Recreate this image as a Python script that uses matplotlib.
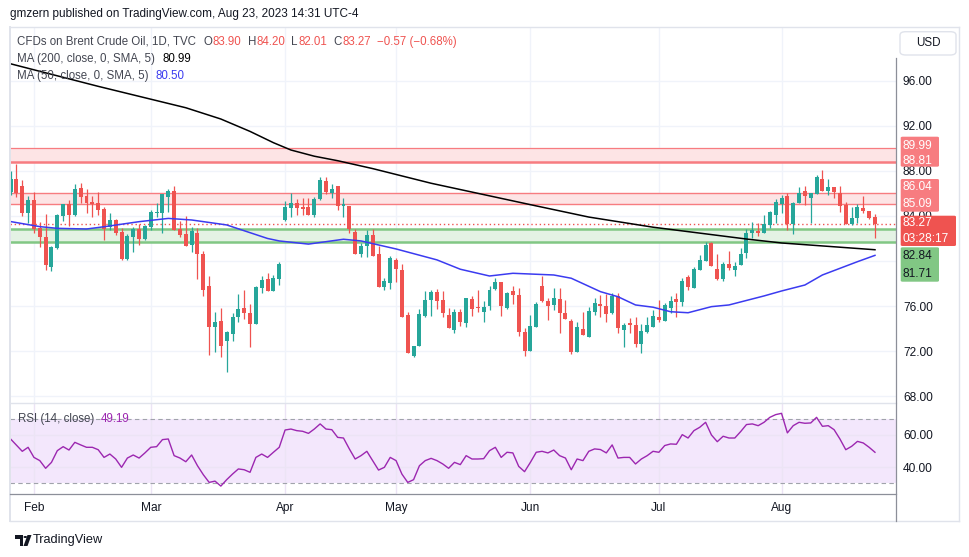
import matplotlib
matplotlib.use('Agg')
import matplotlib.pyplot as plt
from matplotlib.patches import FancyBboxPatch, Polygon, Circle
from matplotlib.lines import Line2D

plt.rcParams['font.family'] = ['Liberation Sans', 'DejaVu Sans']

W, H = 970, 557

# ---------------- data ----------------
opens = [86.15, 87.27, 86.65, 84.29, 85.41, 82.90, 82.13, 79.49, 81.18, 84.02,
         85.06, 84.08, 86.45, 85.76, 85.23, 85.14, 84.61, 83.04, 83.64, 82.60,
         80.17, 82.16, 82.84, 81.95, 83.05, 84.29, 84.29, 85.71, 86.21, 82.81,
         82.40, 81.42, 82.45, 80.62, 77.78, 74.17, 74.67, 72.90, 73.52, 75.05,
         75.80, 75.35, 74.43, 77.63, 78.40, 77.36, 78.37, 83.63, 84.73, 85.17,
         84.76, 84.76, 84.08, 85.47, 87.10, 86.06, 86.68, 84.91, 84.91, 82.60,
         80.62, 81.33, 82.31, 80.62, 77.72, 78.07, 80.09, 79.20, 75.20, 71.59,
         72.48, 75.14, 76.53, 77.25, 76.53, 75.20, 73.87, 75.44, 74.52, 76.62,
         75.94, 75.50, 76.00, 77.51, 78.13, 75.86, 77.33, 76.98, 73.67, 72.04,
         74.17, 77.78, 76.45, 76.09, 76.62, 75.41, 74.70, 71.95, 73.96, 73.28,
         75.50, 76.15, 76.03, 75.35, 76.92, 73.87, 74.46, 74.32, 72.60, 73.72,
         74.17, 75.00, 74.67, 75.85, 76.60, 76.39, 78.55, 77.63, 79.20, 80.00,
         81.57, 79.29, 78.40, 79.73, 79.20, 79.64, 80.74, 82.51, 82.66, 82.51,
         83.19, 84.08, 85.06, 85.76, 83.28, 85.17, 86.21, 85.62, 85.91, 87.27,
         86.21, 86.53, 86.00, 84.97, 83.25, 83.78, 84.67, 84.44, 83.90]
highs = [88.00, 88.60, 87.19, 85.77, 86.09, 83.49, 84.17, 81.36, 84.15, 85.10,
         85.41, 86.83, 86.95, 86.39, 85.76, 86.09, 84.76, 84.23, 83.70, 82.90,
         82.40, 83.05, 83.25, 83.20, 84.52, 85.11, 85.94, 86.36, 86.68, 83.55,
         83.99, 83.05, 82.90, 80.92, 78.67, 75.47, 75.86, 73.78, 75.35, 77.04,
         77.42, 76.18, 77.78, 78.67, 78.90, 78.75, 79.91, 85.32, 86.00, 85.50,
         85.56, 85.56, 85.65, 87.48, 87.48, 86.83, 86.68, 85.62, 84.91, 82.81,
         81.57, 82.75, 82.84, 81.33, 78.52, 80.44, 80.23, 79.73, 75.50, 72.45,
         75.74, 77.36, 77.42, 77.51, 77.33, 75.80, 75.71, 75.71, 76.74, 76.89,
         77.42, 76.45, 77.78, 78.49, 78.13, 77.28, 77.78, 77.57, 74.02, 75.20,
         76.39, 78.67, 76.74, 77.63, 77.57, 76.53, 74.82, 74.61, 75.50, 75.94,
         76.68, 76.98, 77.04, 77.13, 77.19, 74.46, 74.91, 75.06, 74.38, 75.06,
         75.65, 76.53, 76.30, 76.89, 77.13, 78.46, 78.75, 79.44, 80.53, 81.71,
         81.71, 80.59, 79.94, 80.92, 79.94, 81.12, 82.81, 83.43, 83.34, 84.08,
         84.46, 85.47, 85.86, 86.00, 85.26, 86.54, 86.65, 86.06, 87.63, 88.07,
         87.27, 86.53, 86.65, 85.26, 84.76, 85.06, 85.77, 84.44, 84.20]
lows = [85.85, 85.65, 83.99, 83.34, 82.45, 81.27, 79.20, 79.11, 81.10, 83.58,
        83.13, 84.02, 85.18, 84.23, 83.93, 84.08, 81.86, 82.75, 82.30, 80.10,
        80.10, 80.83, 81.42, 81.86, 82.75, 83.87, 82.45, 84.38, 82.75, 82.16,
        81.36, 80.83, 78.40, 76.90, 71.65, 71.95, 71.45, 70.17, 72.93, 74.61,
        74.85, 72.39, 74.43, 77.18, 77.36, 77.33, 77.87, 83.55, 83.93, 84.08,
        84.08, 84.08, 83.87, 85.41, 85.91, 85.62, 84.52, 83.87, 82.45, 80.62,
        80.32, 80.38, 80.44, 77.72, 77.42, 77.48, 78.16, 75.06, 71.80, 71.45,
        72.48, 75.06, 75.14, 75.74, 75.06, 74.08, 73.58, 74.26, 74.17, 75.14,
        75.44, 74.61, 75.65, 77.42, 75.14, 75.74, 76.18, 73.37, 71.60, 72.04,
        74.17, 76.39, 74.76, 75.65, 73.63, 74.85, 71.71, 71.95, 73.43, 73.22,
        75.20, 75.06, 74.55, 75.29, 73.63, 72.39, 73.58, 72.33, 71.86, 73.63,
        74.17, 74.61, 74.67, 75.35, 75.05, 76.03, 77.42, 77.63, 79.20, 80.00,
        79.55, 78.31, 78.25, 79.20, 78.67, 79.64, 80.29, 82.00, 82.22, 82.51,
        82.90, 83.34, 84.29, 82.75, 82.39, 85.17, 84.97, 83.40, 85.91, 86.24,
        85.86, 85.56, 84.38, 83.25, 83.19, 83.40, 84.29, 83.72, 82.01]
closes = [87.27, 86.00, 84.29, 85.41, 82.84, 82.16, 79.64, 81.21, 84.08, 85.06,
          84.08, 86.39, 85.71, 85.18, 85.06, 84.52, 82.84, 83.64, 82.51, 80.17,
          82.22, 82.84, 81.95, 83.10, 84.38, 84.38, 85.94, 86.21, 82.75, 82.31,
          81.36, 82.66, 80.62, 77.43, 74.17, 74.58, 72.48, 73.72, 75.00, 75.74,
          75.41, 74.43, 77.72, 78.31, 77.36, 78.46, 79.73, 84.76, 85.17, 84.73,
          84.64, 84.08, 85.50, 87.18, 86.15, 86.39, 84.91, 85.03, 82.81, 80.62,
          81.33, 82.31, 80.44, 77.72, 78.22, 80.23, 79.26, 75.06, 71.80, 72.45,
          75.29, 76.53, 77.25, 76.47, 75.35, 74.08, 75.44, 74.55, 76.74, 75.74,
          75.80, 75.94, 77.42, 78.13, 76.00, 77.19, 76.98, 73.72, 72.04, 74.23,
          76.18, 76.47, 76.03, 76.74, 75.41, 74.85, 71.95, 74.17, 73.43, 75.56,
          76.24, 76.03, 75.29, 76.92, 74.02, 74.32, 74.32, 72.63, 73.78, 74.32,
          75.11, 74.76, 76.09, 76.45, 76.39, 78.22, 77.66, 79.29, 80.09, 81.42,
          79.55, 78.40, 79.73, 79.35, 79.55, 80.62, 82.51, 82.75, 82.45, 83.25,
          84.32, 85.20, 85.56, 83.28, 85.17, 86.00, 85.77, 86.06, 87.42, 86.24,
          86.53, 86.15, 84.91, 83.25, 83.78, 84.76, 84.47, 83.78, 83.27]

rsi_vals = [57.5, 53.6, 49.8, 52.3, 46.0, 44.0, 39.2, 42.9, 50.2, 52.7,
            50.6, 55.4, 53.8, 52.3, 52.3, 50.8, 46.0, 48.1, 45.0, 39.8,
            45.6, 47.5, 45.6, 48.8, 52.3, 52.7, 57.1, 57.5, 47.1, 45.6,
            43.3, 47.5, 40.8, 35.2, 30.4, 31.2, 28.1, 32.1, 35.6, 38.8,
            38.3, 36.7, 46.0, 48.1, 46.0, 49.2, 52.3, 63.1, 63.7, 62.7,
            62.3, 61.0, 63.7, 66.9, 63.7, 63.3, 58.5, 58.1, 51.3, 45.0,
            47.1, 49.8, 44.0, 38.1, 39.8, 46.0, 44.0, 35.6, 30.4, 32.1,
            40.8, 44.0, 45.4, 44.0, 41.9, 39.2, 42.9, 41.5, 47.1, 45.0,
            45.0, 45.2, 50.2, 52.3, 46.0, 49.2, 48.8, 40.4, 37.1, 42.9,
            49.2, 49.8, 48.8, 50.6, 47.1, 45.6, 38.3, 45.0, 44.0, 49.8,
            51.3, 50.9, 48.8, 53.8, 45.6, 46.0, 46.0, 41.9, 45.0, 47.1,
            49.8, 49.2, 53.4, 54.4, 54.2, 60.2, 58.1, 62.7, 64.8, 67.9,
            60.0, 55.8, 59.2, 58.1, 58.1, 62.1, 66.5, 66.9, 65.8, 67.9,
            71.0, 72.7, 73.5, 61.3, 65.8, 67.9, 67.3, 67.5, 71.0, 65.4,
            65.8, 63.3, 57.5, 50.8, 52.9, 56.0, 55.0, 52.3, 49.19]

ma200_bars = [0, 15, 30, 36, 41, 45, 48, 52, 56, 62, 72, 89, 99, 110, 126, 132, 148]
ma200_vals = [97.5, 95.5, 93.6, 92.6, 91.5, 90.5, 89.85, 89.3, 88.9, 88.2, 86.9,
              85.0, 83.9, 83.0, 81.95, 81.6, 81.0]

ma50_bars = [0, 5, 8, 13, 16, 22, 27, 31, 37, 44, 46, 51, 57, 60, 66, 73, 77, 82,
             86, 93, 96, 101, 104, 107, 110, 113, 116, 120, 123, 129, 132, 136,
             139, 142, 145, 148]
ma50_vals = [83.5, 83.05, 82.9, 82.84, 83.04, 83.49, 83.78, 83.64, 83.2, 82.0, 81.78,
             81.5, 81.93, 81.78, 81.07, 80.1, 79.27, 78.67, 78.91, 78.76, 78.47,
             77.28, 76.83, 76.1, 75.9, 75.5, 75.41, 75.95, 76.1, 76.9, 77.34,
             77.87, 78.76, 79.35, 79.94, 80.5]

month_labels = ['Feb', 'Mar', 'Apr', 'May', 'Jun', 'Jul', 'Aug']
month_bars = [4, 24, 47, 66, 89, 111, 132]

zone_top = (88.81, 89.99)
zone_mid = (85.09, 86.04)
zone_green = (81.71, 82.84)
last_price = 83.27
price_ticks = [68, 72, 76, 80, 84, 88, 92, 96]
hidden_price_ticks = [80]          # fully covered by the level labels in the original
rsi_ticks = [40, 60]

# ---------------- styles ----------------
UP = '#26a69a'
DOWN = '#ef5350'
TXT = '#131722'
GRAYTXT = '#434651'
GRID = '#f0f3fa'
ZRED_LINE = '#f77c80'
ZRED_FILL = '#fde4e5'
ZGRN_LINE = '#81c784'
ZGRN_FILL = '#e4f2e4'
MA50_C = '#3b3bf0'
RSI_C = '#9c27b0'

fig = plt.figure(figsize=(W / 100, H / 100), dpi=100)
fig.patch.set_facecolor('white')


def fx(x):
    return x / W


def fy(y):
    return 1 - y / H


def frect(x0, y0, x1, y1):
    return [x0 / W, 1 - y1 / H, (x1 - x0) / W, (y1 - y0) / H]


ax = fig.add_axes(frect(10, 27, 896, 403))
axr = fig.add_axes(frect(10, 403, 896, 494), sharex=ax)
for a in (ax, axr):
    a.set_facecolor('none')
    for s in a.spines.values():
        s.set_visible(False)

n = len(closes)
xs = list(range(n))
cols = [UP if c >= o else DOWN for o, c in zip(opens, closes)]
bottoms = [min(o, c) for o, c in zip(opens, closes)]
heights = [max(abs(c - o), 0.07) for o, c in zip(opens, closes)]

# zones
ax.axhspan(zone_top[0], zone_top[1], color=ZRED_FILL, lw=0, zorder=1)
ax.axhline(zone_top[1], color=ZRED_LINE, lw=0.9, zorder=1.2)
ax.axhline(zone_top[0], color=ZRED_LINE, lw=1.8, zorder=1.2)
ax.axhspan(zone_mid[0], zone_mid[1], color=ZRED_FILL, lw=0, zorder=1)
ax.axhline(zone_mid[1], color=ZRED_LINE, lw=1.0, zorder=1.2)
ax.axhline(zone_mid[0], color=ZRED_LINE, lw=1.0, zorder=1.2)
ax.axhspan(zone_green[0], zone_green[1], color=ZGRN_FILL, lw=0, zorder=1)
ax.axhline(zone_green[1], color=ZGRN_LINE, lw=1.8, zorder=1.2)
ax.axhline(zone_green[0], color=ZGRN_LINE, lw=1.8, zorder=1.2)
ax.axhline(last_price, color=DOWN, lw=1.0, ls=(0, (1, 2)), zorder=1.3)

# candles
ax.vlines(xs, lows, highs, colors=cols, lw=0.9, zorder=2.9)
ax.bar(xs, heights, bottom=bottoms, width=0.68, color=cols, lw=0, zorder=3)

# moving averages
ax.plot(ma200_bars, ma200_vals, color='black', lw=1.1, zorder=4)
ax.plot(ma50_bars, ma50_vals, color=MA50_C, lw=1.1, zorder=4)

ax.set_xlim(-0.10, 151.6)
ax.set_ylim(67.40, 100.765)
ax.set_xticks(month_bars)
ax.tick_params(axis='x', length=0, labelbottom=False)
ax.yaxis.tick_right()
ax.set_yticks(price_ticks)
ax.set_yticklabels(['' if v in hidden_price_ticks else f'{v:.2f}' for v in price_ticks])
ax.tick_params(axis='y', length=0, pad=5, labelsize=8.6, labelcolor=TXT)
ax.grid(True, color=GRID, lw=1.0)
ax.set_axisbelow(True)

# RSI pane
axr.axhspan(30, 70, color='#f3e7fc', lw=0, zorder=0.1)
axr.axhline(70, color='#a0a3ab', lw=0.8, ls=(0, (4, 3)), zorder=1)
axr.axhline(30, color='#a0a3ab', lw=0.8, ls=(0, (4, 3)), zorder=1)
axr.plot(xs, rsi_vals, color=RSI_C, lw=1.0, zorder=3)
axr.set_ylim(23.16, 79.95)
axr.set_xticks(month_bars)
axr.set_xticklabels(month_labels)
axr.tick_params(axis='x', length=0, pad=6, labelsize=8.6, labelcolor=TXT)
axr.yaxis.tick_right()
axr.set_yticks(rsi_ticks)
axr.set_yticklabels([f'{v:.2f}' for v in rsi_ticks])
axr.tick_params(axis='y', length=0, pad=5, labelsize=8.6, labelcolor=TXT)
axr.grid(True, color='#ece4f5', lw=1.0)
axr.set_axisbelow(True)


# ---------------- figure decorations ----------------
def fline(x0, y0, x1, y1, color, lw, z=5):
    fig.add_artist(Line2D([fx(x0), fx(x1)], [fy(y0), fy(y1)], color=color,
                          lw=lw, transform=fig.transFigure, zorder=z))


fline(10, 27, 959, 27, '#e0e3eb', 1.0)
fline(10, 27, 10, 521, '#e0e3eb', 1.4)
fline(959, 27, 959, 521, '#e0e3eb', 1.0)
fline(10, 521, 959, 521, '#e0e3eb', 1.0)
fline(10, 403, 896, 403, '#e0e3eb', 1.0)
fline(896, 58, 896, 521, '#8c8f99', 0.9)
fline(10, 494, 896, 494, '#8c8f99', 0.9)


def ftext(x, y, s, color=TXT, size=8.3, ha='left', **kw):
    return fig.text(fx(x), fy(y), s, color=color, fontsize=size, ha=ha, va='center', **kw)


renderer = fig.canvas.get_renderer()


def seq_text(x0, y, parts, size=8.3):
    x = x0
    for s, c, gap in parts:
        x += gap
        t = ftext(x, y, s, color=c, size=size)
        x += t.get_window_extent(renderer).width


ftext(10, 14, 'gmzern published on TradingView.com, Aug 23, 2023 14:31 UTC-4', size=8.5)

seq_text(17.3, 42, [('CFDs on Brent Crude Oil, 1D, TVC', GRAYTXT, 0),
                    ('O', GRAYTXT, 7), ('83.90', DOWN, 0.6),
                    ('H', GRAYTXT, 6), ('84.20', DOWN, 0.6),
                    ('L', GRAYTXT, 6), ('82.01', DOWN, 0.6),
                    ('C', GRAYTXT, 6), ('83.27', DOWN, 0.6),
                    ('\u22120.57 (\u22120.68%)', DOWN, 6)])
seq_text(17.3, 59.3, [('MA (200, close, 0, SMA, 5)', GRAYTXT, 0), ('80.99', 'black', 7)])
seq_text(17.3, 75.7, [('MA (50, close, 0, SMA, 5)', GRAYTXT, 0), ('80.50', MA50_C, 7)])
seq_text(18.3, 419, [('RSI (14, close)', GRAYTXT, 0), ('49.19', RSI_C, 6)])

# USD button
fig.add_artist(FancyBboxPatch((fx(900), fy(55)), (956 - 900) / W, (55 - 31.7) / H,
                              boxstyle='round,pad=0,rounding_size=0.006',
                              facecolor='white', edgecolor='#e0e3eb', lw=1.0,
                              transform=fig.transFigure, zorder=5))
ftext(928, 43.3, 'USD', ha='center', size=8.4, zorder=6)

# price label boxes on the scale
label_boxes = [
    (136.7, 166.7, 939, ZRED_LINE, 'white', [('89.99', 145.5), ('88.81', 160.5)]),
    (179.0, 211.7, 939, ZRED_LINE, 'white', [('86.04', 187.0), ('85.09', 203.5)]),
    (215.7, 246.0, 956, DOWN, 'white', [('83.27', 223.5), ('03:28:17', 238.5)]),
    (247.3, 281.7, 939, ZGRN_LINE, TXT, [('82.84', 256.0), ('81.71', 273.5)]),
]
for y0, y1, x1, fc, tc, texts in label_boxes:
    fig.add_artist(FancyBboxPatch((fx(900.7), fy(y1)), (x1 - 900.7) / W, (y1 - y0) / H,
                                  boxstyle='round,pad=0,rounding_size=0.002',
                                  facecolor=fc, edgecolor='none',
                                  transform=fig.transFigure, zorder=5))
    for s, ty in texts:
        ftext(903, ty, s, color=tc, size=8.6, zorder=6)

# TradingView logo + wordmark
fig.add_artist(Polygon([(fx(15), fy(535)), (fx(23), fy(535)), (fx(23), fy(546)),
                        (fx(19.5), fy(546)), (fx(19.5), fy(538.5)), (fx(15), fy(538.5))],
                       closed=True, facecolor=TXT, edgecolor='none',
                       transform=fig.transFigure, zorder=5))
fig.add_artist(Circle((fx(25.3), fy(537)), 1.8 / W, facecolor=TXT, edgecolor='none',
                      transform=fig.transFigure, zorder=5))
fig.add_artist(Polygon([(fx(27.5), fy(535)), (fx(31.5), fy(535)), (fx(27.5), fy(546)),
                        (fx(23.5), fy(546))], closed=True, facecolor=TXT,
                       edgecolor='none', transform=fig.transFigure, zorder=5))
ftext(33, 540.5, 'TradingView', size=9.2)

fig.savefig('out.png', dpi=100, facecolor='white')
